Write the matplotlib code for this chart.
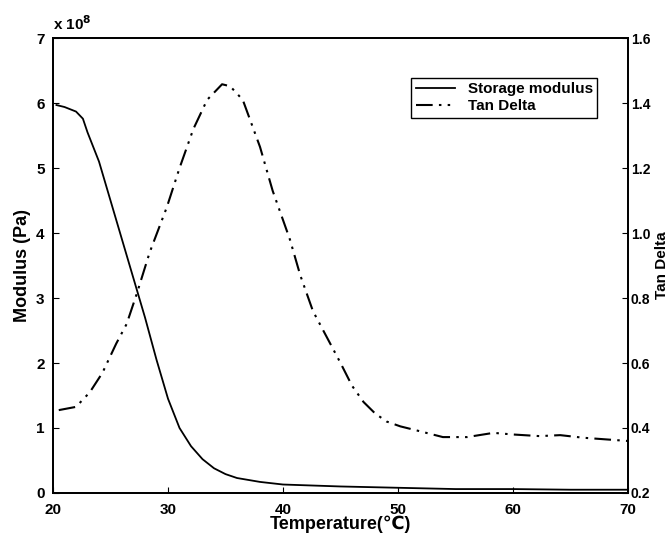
import matplotlib.pyplot as plt

# storage modulus (x 1e8 Pa) vs temperature
temp_mod = [20.3, 21, 22, 22.6, 23, 24, 25, 26, 27, 28, 29, 30, 31, 32, 33,
            34, 35, 36, 38, 40, 45, 50, 55, 60, 65, 70]
modulus = [5.97, 5.94, 5.87, 5.76, 5.55, 5.1, 4.5, 3.9, 3.3, 2.7, 2.05, 1.45,
           1.0, 0.72, 0.52, 0.38, 0.29, 0.23, 0.17, 0.13, 0.1, 0.08, 0.06,
           0.06, 0.05, 0.05]

# tan delta vs temperature
temp_tan = [20.5, 22, 23.2, 24.3, 25.5, 26.4, 27.3, 28.4, 29.9, 31, 32.2, 33.4,
            34.7, 35.4, 36.5, 38, 39.1, 40.6, 41.5, 42.6, 44.1, 45, 46, 47, 48,
            49, 50.2, 51.9, 53.9, 56, 58.3, 60, 62.3, 64.1, 66.1, 70]
tan_delta = [0.455, 0.465, 0.51, 0.57, 0.66, 0.72, 0.815, 0.94, 1.08, 1.2,
             1.32, 1.41, 1.458, 1.452, 1.41, 1.265, 1.13, 0.98, 0.87, 0.76,
             0.66, 0.6, 0.53, 0.48, 0.445, 0.42, 0.405, 0.39, 0.372, 0.372,
             0.385, 0.38, 0.375, 0.378, 0.37, 0.36]

plt.rcParams['font.family'] = ['Liberation Sans', 'DejaVu Sans']
plt.rcParams['font.weight'] = 'bold'

fig = plt.figure(figsize=(6.71, 5.37), dpi=100)
ax = fig.add_axes([0.079, 0.082, 0.857, 0.847])
ax2 = ax.twinx()

l1, = ax.plot(temp_mod, modulus, color='black', lw=1.3, label='Storage modulus')
l2, = ax2.plot(temp_tan, tan_delta, color='black', lw=1.5,
               dashes=(8, 3, 1.2, 3, 1.2, 3), label='Tan Delta')

ax.set_xlim(20, 70)
ax.set_ylim(0, 7)
ax2.set_ylim(0.2, 1.6)
ax.set_xticks(range(20, 71, 10))
ax.set_yticks(range(0, 8))
ax2.set_yticks([0.2, 0.4, 0.6, 0.8, 1.0, 1.2, 1.4, 1.6])
ax2.set_yticklabels(['0.2', '0.4', '0.6', '0.8', '1.0', '1.2', '1.4', '1.6'])

ax.tick_params(axis='x', direction='in', labelsize=11, length=4, pad=7)
ax.tick_params(axis='y', direction='in', labelsize=11, length=4, pad=6)
ax2.tick_params(direction='in', labelsize=10, length=4, pad=2)
for a in (ax, ax2):
    for s in a.spines.values():
        s.set_linewidth(1.3)

ax.set_xlabel('Temperature(\u2103)', fontsize=13, fontweight='bold', labelpad=-1)
ax.set_ylabel('Modulus (Pa)', fontsize=13, fontweight='bold', labelpad=4)
ax2.set_ylabel('Tan Delta', fontsize=11, fontweight='bold', labelpad=3)
ax.text(0.0, 1.012, 'x 10$^8$', transform=ax.transAxes, fontsize=11,
        fontweight='bold', ha='left', va='bottom')

leg = ax.legend(handles=[l1, l2], loc='upper right',
                bbox_to_anchor=(0.96, 0.93), fancybox=False, framealpha=1,
                edgecolor='black', fontsize=11, handlelength=2.6,
                borderpad=0.3, labelspacing=0.2)
leg.get_frame().set_linewidth(1.0)

fig.savefig('out.png', dpi=100)
